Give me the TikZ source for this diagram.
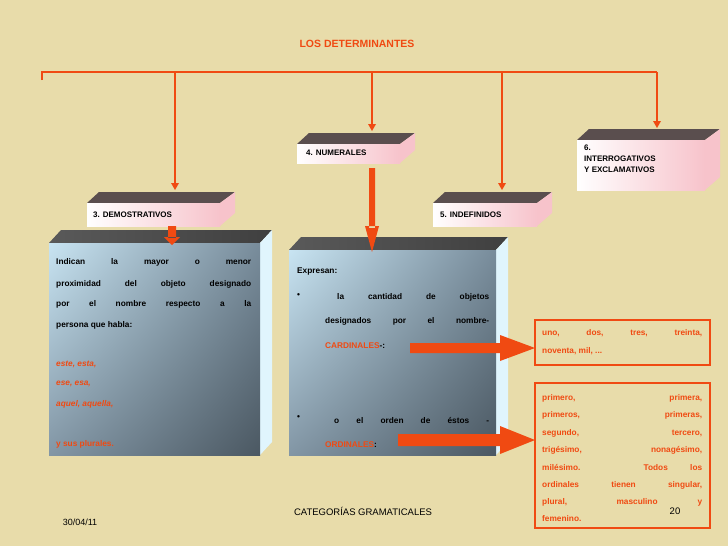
\documentclass[tikz,border=0pt]{standalone}
\usepackage{fontspec}
\setmainfont{Liberation Sans}
\usetikzlibrary{calc,shadings}
\definecolor{bg}{HTML}{E8DCAA}
\definecolor{ora}{HTML}{F04A12}
\definecolor{topd}{HTML}{5A4E4E}
\definecolor{pink}{HTML}{F7C3CB}
\definecolor{gA}{RGB}{200,228,242}
\definecolor{gB}{RGB}{120,140,155}
\definecolor{gC}{RGB}{130,150,165}
\definecolor{gD}{RGB}{75,88,98}
\begin{document}
\begin{tikzpicture}[x=1pt,y=-1pt,
  ln/.style={draw=ora,line width=2.6pt},
  lbl/.style={anchor=west,inner sep=0pt,font=\bfseries\fontsize{8}{10}\selectfont},
  txt/.style={anchor=west,inner sep=0pt,font=\bfseries\fontsize{8.3}{10}\selectfont},
  rtxt/.style={txt,text=ora},
  obox/.style={draw=ora,line width=2.2pt}]
\fill[bg] (0,0) rectangle (728,546);
\useasboundingbox (0,0) rectangle (728,546);
\newcommand\smallbox[5]{% x1 y1 x2 y2 (front), name
  \fill[topd] (#1,#2) -- (#1+12,#2-11) -- (#3+15,#2-11) -- (#3,#2) -- cycle;
  \fill[pink] (#3,#2) -- (#3+15,#2-11) -- (#3+15,#4-13) -- (#3,#4) -- cycle;
  \shade[left color=white,right color=pink] (#1,#2) rectangle (#3,#4);
  \coordinate (#5) at (#1,#2);}
\newcommand\bigbox[5]{%
  \shade[left color=gray!70!black,right color=gray!50!black] (#1,#2) -- (#1+12,#2-13) -- (#3+12,#2-13) -- (#3,#2) -- cycle;
  \fill[cyan!12] (#3,#2) -- (#3+12,#2-13) -- (#3+12,#4-13) -- (#3,#4) -- cycle;
  \shade[upper left=gA,upper right=gB,lower left=gC,lower right=gD] (#1,#2) rectangle (#3,#4);
  \coordinate (#5) at (#1,#2);}
\newcommand\jl[2]{\makebox[#1pt][s]{#2}}

\node[font=\bfseries\fontsize{10.5}{12}\selectfont,text=ora] (title) at (357,44) {LOS DETERMINANTES};

% boxes
\smallbox{87}{203}{220}{226}{b3}
\smallbox{297}{144}{400}{163}{b4}
\smallbox{433}{203}{537}{226}{b5}
\smallbox{577}{140}{705}{190}{b6}
\bigbox{49}{243}{260}{455}{B3}
\bigbox{289}{250}{496}{455}{B4}

\node[lbl] (l3) at (93,215) {3. DEMOSTRATIVOS};
\node[lbl] (l4) at (306,153) {4. NUMERALES};
\node[lbl] (l5) at (440,215) {5. INDEFINIDOS};
\node[lbl,anchor=north west,align=left,font=\bfseries\fontsize{8}{11}\selectfont] (l6) at (584,145) {6.\\INTERROGATIVOS\\Y EXCLAMATIVOS};

% tree
\coordinate (h0) at (42,80);
\coordinate (h1) at (42,72);
\coordinate (h2) at (657,72);
\draw[ln] (h0) -- (h1) -- (h2);
\coordinate (t3) at (175,72); \coordinate (e3) at (175,190);
\coordinate (t4) at (372,72); \coordinate (e4) at (372,131);
\coordinate (t5) at (502,72); \coordinate (e5) at (502,190);
\coordinate (t6) at (657,72); \coordinate (e6) at (657,128);
\foreach \a/\b in {t3/e3,t4/e4,t5/e5,t6/e6}{
  \draw[ln] (\a) -- ($(\b)+(0,-6)$);
  \fill[ora] ($(\b)+(-4,-7)$) -- ($(\b)+(4,-7)$) -- (\b) -- cycle;}
% arrows into big boxes
\coordinate (a3e) at (172,245);
\fill[ora] (168,226) rectangle (176,238) (164,237) -- (180,237) -- (a3e) -- cycle;
\coordinate (a4e) at (372,252);
\fill[ora] (369,168) rectangle (375,228) (365,226) -- (379,226) -- (a4e) -- cycle;

% demostrativos text
\node[txt] (d1) at (56,262) {\jl{195}{Indican la mayor o menor}};
\node[txt] (d2) at (56,284) {\jl{195}{proximidad del objeto designado}};
\node[txt] (d3) at (56,304) {\jl{195}{por el nombre respecto a la}};
\node[txt] (d4) at (56,325) {persona que habla:};
\node[rtxt,font=\bfseries\itshape\fontsize{8.3}{10}\selectfont] (d5) at (56,364) {este, esta,};
\node[rtxt,font=\bfseries\itshape\fontsize{8.3}{10}\selectfont] (d6) at (56,384) {ese, esa,};
\node[rtxt,font=\bfseries\itshape\fontsize{8.3}{10}\selectfont] (d7) at (56,404) {aquel, aquella,};
\node[rtxt] (d8) at (56,444) {y sus plurales.};

% numerales text
\node[txt] (n1) at (297,272) {Expresan:};
\node[txt] (n2) at (297,296) {•};
\node[txt] (n3) at (337,297) {\jl{152}{la cantidad de objetos}};
\node[txt] (n4) at (325,321) {\jl{164}{designados por el nombre-}};
\node[txt] (n5) at (325,346) {\textcolor{ora}{CARDINALES}-:};
\node[txt] (n6) at (297,418) {•};
\node[txt] (n7) at (334,420) {\jl{155}{o el orden de éstos -}};
\node[txt] (n8) at (325,445) {\textcolor{ora}{ORDINALES}:};

% orange boxes
\draw[obox] (535,320) rectangle (710,365);
\node[rtxt] (c1) at (542,333) {\jl{160}{uno, dos, tres, treinta,}};
\node[rtxt] (c2) at (542,351) {noventa, mil, ...};
\draw[obox] (535,383) rectangle (710,528);
\node[rtxt] (o1) at (542,398) {\jl{160}{primero, primera,}};
\node[rtxt] (o2) at (542,415) {\jl{160}{primeros, primeras,}};
\node[rtxt] (o3) at (542,433) {\jl{160}{segundo, tercero,}};
\node[rtxt] (o4) at (542,450) {\jl{160}{trigésimo, nonagésimo,}};
\node[rtxt] (o5) at (542,467) {\jl{160}{milésimo. Todos los}};
\node[rtxt] (o6) at (542,485) {\jl{160}{ordinales tienen singular,}};
\node[rtxt] (o7) at (542,502) {\jl{160}{plural, masculino y}};
\node[rtxt] (o8) at (542,519) {femenino.};

% block arrows
\coordinate (k1) at (535,348);
\fill[ora] (410,343) -- (500,343) -- (500,335) -- (k1) -- (500,361) -- (500,353) -- (410,353) -- cycle;
\coordinate (k2) at (535,440);
\fill[ora] (398,434) -- (500,434) -- (500,426) -- (k2) -- (500,454) -- (500,446) -- (398,446) -- cycle;

% footer
\node[font=\fontsize{9}{11}\selectfont] (f1) at (80,522) {30/04/11};
\node[font=\fontsize{9.5}{11}\selectfont] (f2) at (363,511) {CATEGORÍAS GRAMATICALES};
\node[font=\fontsize{9.5}{11}\selectfont] (f3) at (675,511) {20};
\end{tikzpicture}
\end{document}
